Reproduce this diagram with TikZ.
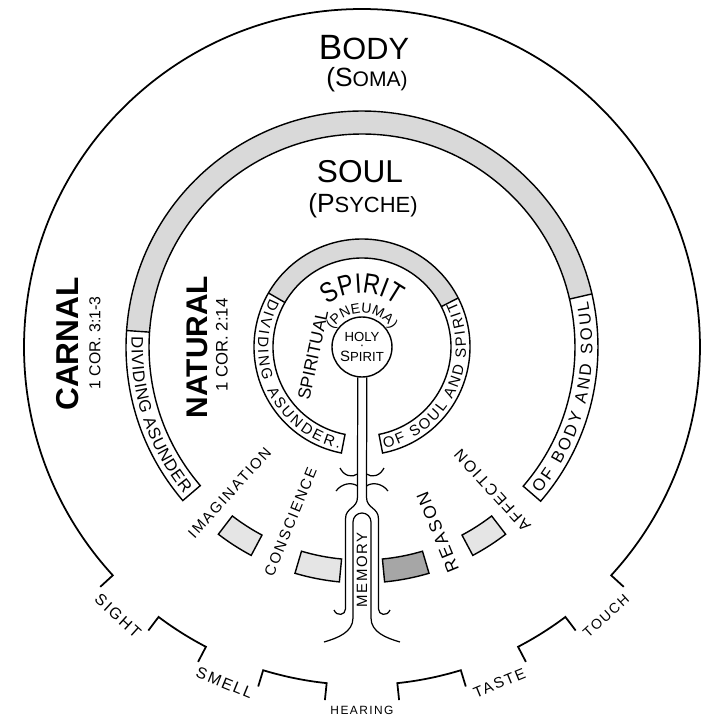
\documentclass[tikz,border=0pt]{standalone}
\usepackage{fontspec}
\setmainfont{Liberation Sans}
\newfontfamily\spaced{Liberation Sans}[LetterSpace=12]
\newfontfamily\narrow{Liberation Sans}[FakeStretch=0.82]
\usetikzlibrary{decorations.text}
\newcommand{\fsz}[1]{\fontsize{#1}{#1}\selectfont}

\tikzset{
  rim/.style={line width=1pt},
  band/.style={line width=0.8pt},
  stipple/.style={fill=black!15},
  stemline/.style={line width=0.7pt},
  sense/.style={inner sep=0pt},
  faculty/.style={inner sep=0pt},
  bandtext/.style={decorate, decoration={text along path, text align=fit to path, text={#1}}},
  arctext/.style={decorate, decoration={text along path, text align=center, text={#1}}}
}

\begin{document}
\begin{tikzpicture}[x=0.02cm, y=0.02cm]
  \useasboundingbox (-362,-374) rectangle (348,347);

  % body, open at the five senses
  \draw[rim] (222.5:355) -- (222.5:338) arc[start angle=222.5, end angle=-42.5, radius=338] -- (-42.5:355);
  \foreach \a/\b in {233/242.5, 253/264, 276/287, 297.5/307}
    \draw[rim] (\a:355) -- (\a:338) arc[start angle=\a, end angle=\b, radius=338] -- (\b:355);
  \foreach \a/\t/\s in {227.75/SIGHT/9, 247.75/SMELL/9, 270/HEARING/6.8, 292.25/TASTE/8.6, 312.25/TOUCH/8}
    \node[sense, font=\spaced\fsz{\s}, rotate=\a+90] (\t) at (\a:363) {\t};

  \node (body) at (2,299) {\fsz{20}B\fsz{17.5}ODY};
  \node (soma) at (5,267) {\fsz{15}(S\fsz{12}OMA)};
  \node[rotate=90] (carnal) at (-294,3) {\fsz{18}\bfseries CARNAL};
  \node[rotate=90] (carnalref) at (-267,4) {\fsz{9}1 COR. 3:1-3};

  % soul band
  \fill[stipple] (13:213) arc[start angle=13, end angle=176, radius=213] -- (176:236) arc[start angle=176, end angle=13, radius=236] -- cycle;
  \draw[band] (-40.8:213) arc[start angle=-40.8, end angle=220.6, radius=213] -- (220.6:236) arc[start angle=220.6, end angle=-40.8, radius=236] -- cycle;
  \draw[band] (13:213) -- (13:236) (176:213) -- (176:236);
  \path[bandtext={|\fsz{9.5}|DIVIDING ASUNDER}] (177.5:230.5) arc[start angle=177.5, end angle=219.5, radius=230.5];
  \path[bandtext={|\fsz{9.5}|OF BODY AND SOUL}] (320.5:230.5) arc[start angle=320.5, end angle=371.5, radius=230.5];

  % the faculties
  \foreach \a/\b/\c in {232.5/242/10, 253.5/264.5/10, 275.5/286.5/35, 298/307.5/10}
    \filldraw[band, fill=black!\c] (\a:213) arc[start angle=\a, end angle=\b, radius=213] -- (\b:236) arc[start angle=\b, end angle=\a, radius=236] -- cycle;
  \foreach \a/\r/\t/\s in {227.75/197/IMAGINATION/8.5, 247.75/189/CONSCIENCE/8.5, 292.25/200/REASON/10, 312.25/194/AFFECTION/9}
    \node[faculty, font=\spaced\fsz{\s}, rotate=\a-180] (\t) at (\a:\r) {\t};

  \node (soul) at (-2,175) {\fsz{18}SOUL};
  \node (psyche) at (1,141) {\fsz{15}(P\fsz{12.5}SYCHE)};
  \node[rotate=90] (natural) at (-165,0) {\fsz{17}\bfseries NATURAL};
  \node[rotate=90] (naturalref) at (-140,2) {\fsz{9.5}1 COR. 2:14};

  % spirit band
  \fill[stipple] (27:89) arc[start angle=27, end angle=150, radius=89] -- (150:108) arc[start angle=150, end angle=27, radius=108] -- cycle;
  \draw[band] (-79:89) arc[start angle=-79, end angle=259, radius=89] -- (259:108) arc[start angle=259, end angle=-79, radius=108] -- cycle;
  \draw[band] (27:89) -- (27:108) (150:89) -- (150:108);
  \path[bandtext={|\fsz{8.5}|DIVIDING ASUNDER.}] (152:104) arc[start angle=152, end angle=257.5, radius=104];
  \path[bandtext={|\fsz{8.5}|OF SOUL AND SPIRIT}] (282.5:104) arc[start angle=282.5, end angle=386, radius=104];

  \path[arctext={|\narrow\fsz{16}|SPIRIT}] (160:54) arc[start angle=160, end angle=20, radius=54];
  \path[arctext={|\fsz{8}|(PNEUMA)}] (175:34) arc[start angle=175, end angle=5, radius=34];
  \node[rotate=78] (spiritual) at (-49,-8) {\fsz{10}SPIRITUAL};

  \node[draw, band, circle, minimum size=1.2cm, inner sep=0pt, align=center,
        font=\fontsize{7.5}{4.5}\selectfont] (holy) at (0,0)
        {HOLY\\·\\{\fontsize{8.5}{4.5}\selectfont S}PIRIT};

  % stem and memory
  \draw[stemline] (holy.-98.6) -- (-4.5,-150) .. controls (-4.5,-162) and (-16.5,-160) .. (-16.5,-172)
    -- (-16.5,-262) .. controls (-16.5,-268) and (-25,-270) .. (-28,-263);
  \draw[stemline] (holy.-81.4) -- (4.5,-150) .. controls (4.5,-162) and (16.5,-160) .. (16.5,-172)
    -- (16.5,-262) .. controls (16.5,-268) and (25,-270) .. (28,-263);
  \foreach \s in {-1,1} {
    \draw[stemline] (\s*4.5,-127) .. controls (\s*10,-131) and (\s*18,-129) .. (\s*22,-121);
    \draw[stemline] (\s*4.5,-139) .. controls (\s*10,-135) and (\s*20,-136) .. (\s*26,-144);
  }
  \draw[stemline] (-38,-295) .. controls (-24,-291) and (-9,-285) .. (-9,-271) -- (-9,-175)
    arc[start angle=180, end angle=0, radius=9] -- (9,-271) .. controls (9,-285) and (24,-291) .. (38,-295);
  \node[font=\spaced\fsz{8.5}, rotate=90] (memory) at (0,-223) {MEMORY};
\end{tikzpicture}
\end{document}
